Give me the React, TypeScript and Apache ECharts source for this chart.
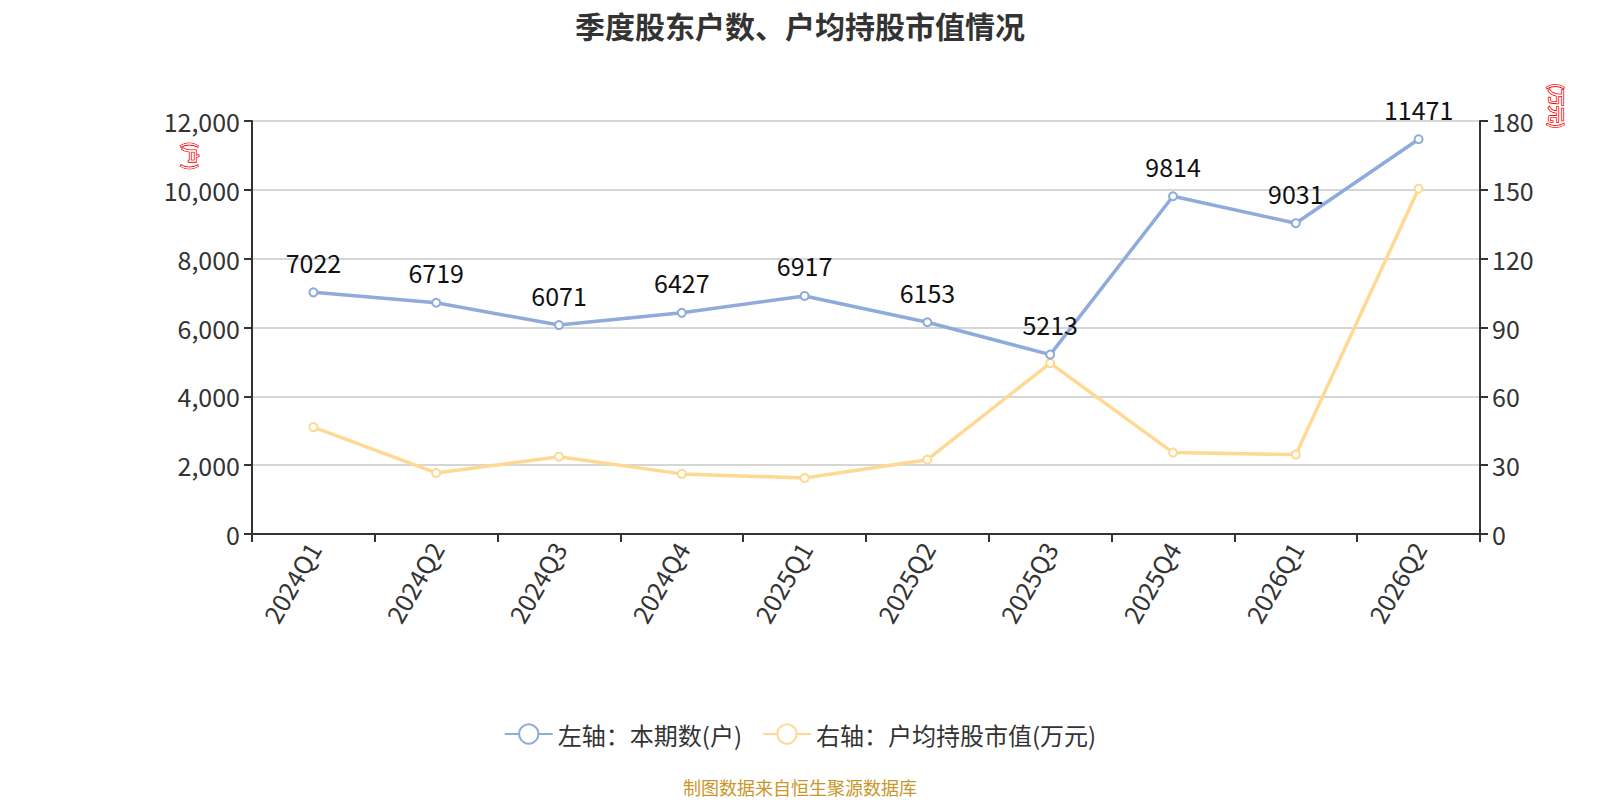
import React, { useEffect, useRef } from "react";
import * as echarts from "echarts";

const categories = ["2024Q1", "2024Q2", "2024Q3", "2024Q4", "2025Q1", "2025Q2", "2025Q3", "2025Q4", "2026Q1", "2026Q2"];
const holders = [7022, 6719, 6071, 6427, 6917, 6153, 5213, 9814, 9031, 11471];
const avgValue = [46.6, 26.6, 33.7, 26.2, 24.4, 32.4, 74.5, 35.5, 34.6, 150.5];
const leftTicks = { min: 0, max: 12000, interval: 2000 };
const rightTicks = { min: 0, max: 180, interval: 30 };

const FONT = '"Noto Sans CJK SC", "Noto Sans", sans-serif';

export default function App() {
  const ref = useRef<HTMLDivElement>(null);
  useEffect(() => {
    if (!ref.current) return;
    const chart = echarts.init(ref.current, undefined, { renderer: "svg" });
    chart.setOption({
      animation: false,
      backgroundColor: "#fff",
      textStyle: { fontFamily: FONT },
      title: {
        text: "季度股东户数、户均持股市值情况",
        left: "center",
        top: 5,
        textStyle: { fontSize: 30, fontWeight: "bold", color: "#333", fontFamily: FONT },
      },
      legend: {
        left: "center",
        top: 717,
        itemWidth: 48,
        itemHeight: 24,
        itemGap: 20,
        textStyle: { fontSize: 24, color: "#333", fontFamily: FONT },
        data: ["左轴：本期数(户)", "右轴：户均持股市值(万元)"],
      },
      grid: { left: 252, right: 120, top: 121, bottom: 266, containLabel: false },
      xAxis: {
        type: "category",
        data: categories,
        boundaryGap: true,
        axisLine: { lineStyle: { color: "#333", width: 2 } },
        axisTick: { show: true, length: 8, lineStyle: { color: "#333", width: 2 } },
        axisLabel: { rotate: 60, fontSize: 25, color: "#333", margin: 10, interval: 0, fontFamily: FONT },
      },
      yAxis: [
        {
          type: "value",
          min: leftTicks.min,
          max: leftTicks.max,
          interval: leftTicks.interval,
          axisLine: { show: true, lineStyle: { color: "#333", width: 2 } },
          axisTick: { show: true, length: 8, lineStyle: { color: "#333", width: 2 } },
          axisLabel: { fontSize: 25, color: "#333", margin: 12, fontFamily: FONT },
          splitLine: { lineStyle: { color: "#c8c8c8", width: 1.5 } },
        },
        {
          type: "value",
          min: rightTicks.min,
          max: rightTicks.max,
          interval: rightTicks.interval,
          position: "right",
          axisLine: { show: true, lineStyle: { color: "#333", width: 2 } },
          axisTick: { show: true, length: 8, lineStyle: { color: "#333", width: 2 } },
          axisLabel: { fontSize: 25, color: "#333", margin: 12, fontFamily: FONT },
          splitLine: { show: false },
        },
      ],
      series: [
        {
          name: "左轴：本期数(户)",
          type: "line",
          yAxisIndex: 0,
          data: holders,
          symbol: "emptyCircle",
          symbolSize: 8,
          lineStyle: { color: "#8eabdb", width: 3.5 },
          itemStyle: { color: "#8eabdb", borderWidth: 2 },
          label: { show: true, position: "top", distance: 13, fontSize: 25, color: "#111", fontFamily: FONT },
          z: 3,
        },
        {
          name: "右轴：户均持股市值(万元)",
          type: "line",
          yAxisIndex: 1,
          data: avgValue,
          symbol: "emptyCircle",
          symbolSize: 8,
          lineStyle: { color: "#ffd994", width: 3.5 },
          itemStyle: { color: "#ffd994", borderWidth: 2 },
          label: { show: false },
          z: 2,
        },
      ],
      graphic: [
        {
          type: "text",
          x: 191,
          y: 156,
          rotation: -Math.PI / 2,
          style: {
            text: "(户)",
            fontSize: 17,
            fontFamily: FONT,
            fill: "#fff",
            stroke: "#ff0000",
            lineWidth: 1.6,
            align: "center",
            verticalAlign: "middle",
          },
        },
        {
          type: "text",
          x: 1557,
          y: 106,
          rotation: -Math.PI / 2,
          style: {
            text: "(万元)",
            fontSize: 17,
            fontFamily: FONT,
            fill: "#fff",
            stroke: "#ff0000",
            lineWidth: 1.6,
            align: "center",
            verticalAlign: "middle",
          },
        },
        {
          type: "text",
          x: 800,
          y: 787,
          style: {
            text: "制图数据来自恒生聚源数据库",
            fontSize: 18,
            fontFamily: FONT,
            fill: "#c9962b",
            align: "center",
            verticalAlign: "middle",
          },
        },
      ],
    });
    return () => chart.dispose();
  }, []);
  return <div ref={ref} style={{ position: "absolute", left: 0, top: 0, width: 1600, height: 800 }} />;
}
